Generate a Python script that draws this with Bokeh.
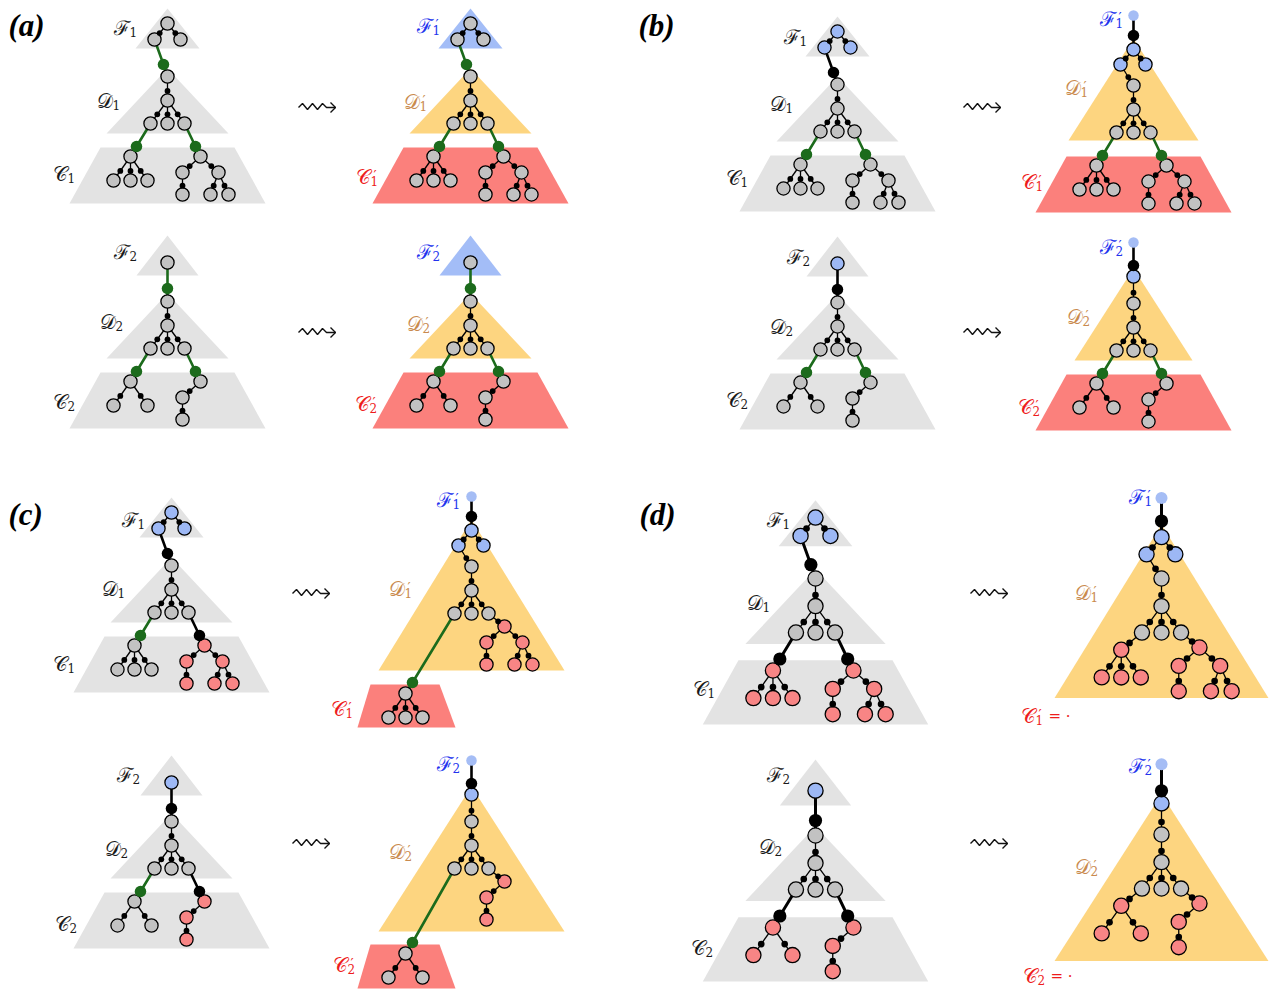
from bokeh.plotting import figure
from bokeh.models import Range1d
from bokeh.embed import file_html
from bokeh.resources import INLINE
from bokeh.core.properties import value

W, H = 1274, 992

# ---------------- colours ----------------
GRAY_TRI = "#e3e3e3"
BLUE_TRI = "#a3bdf7"
YEL_TRI = "#fdd580"
RED_TRI = "#fb807c"
GRAY_NODE = "#c2c2c2"
BLUE_NODE = "#9db8f5"
RED_NODE = "#f88585"
TOP_DOT = "#a5bdf5"
GREEN = "#1c6b1c"
BLACK = "#000000"
LBL_BLUE = "#2233ee"
LBL_TAN = "#c98a4e"
LBL_RED = "#ee1c1c"

# ---------------- panel letters ----------------
PANEL_LETTERS = ["(a)", "(b)", "(c)", "(d)"]
PANEL_LETTER_X = [8, 638, 8, 639]
PANEL_LETTER_Y = [25, 25, 514, 514]

# ---------------- diagram anchors (root of the D tree) ----------------
ROW_KEYS = ["a1", "a2", "b1", "b2", "c1", "c2", "d1", "d2"]
LEFT_X = [167, 167, 837, 837, 171, 171, 815, 815]
LEFT_Y = [76, 301, 84, 302, 565, 821, 578, 835]
RIGHT_X = [470, 470, 1133, 1133, 471, 471, 1161, 1161]
RIGHT_Y = [76, 301, 85, 303, 566, 821, 578, 834]
SCALE = [1, 1, 1, 1, 1, 1, 1.15, 1.15]
ARROW_X = [298, 298, 963, 963, 292, 292, 970, 970]
ARROW_Y = [107, 332, 107, 332, 593, 843, 593, 843]

# ---------------- tree templates (relative) ----------------
F3_NODES = [(0, -53), (-13, -37), (13, -37)]
F1_NODE = (0, -39)
F_LINK = {1: (-4, -12), 2: (0, -13)}
D_NODES = [(0, 0), (0, 24), (-17, 47), (0, 47), (17, 47)]
D_EDGES = [(0, 1), (1, 2), (1, 3), (1, 4)]
C_LINK_L = (-31, 70)
C_LINK_R = (28, 70)
C_ROOT_L = (-37, 80)
C_ROOT_R = (33, 80)
C3_KIDS = [(-17, 24), (0, 24), (17, 24)]
C2_KIDS = [(-17, 24), (17, 24)]
C5_KIDS = [(-18, 16), (18, 16)]
C5_LEAVES = [(0, (0, 22)), (1, (-8, 22)), (1, (10, 22))]
CH_KID = (-18, 16)
CH_LEAF = (0, 22)

F_TRI = {1: [(0, -68), (-32, -28), (32, -28)], 2: [(0, -66), (-31, -26), (31, -26)]}
D_TRI = [(0, -8), (-61, 57), (61, 57)]
C_TRAP = [(-67, 71), (67, 71), (98, 127), (-98, 127)]

TOP = {1: dict(top=(0, -70), bd=(0, -50), blue=(0, -36), kids=[(-13, -21), (12, -21)]),
       2: dict(top=(0, -61), bd=(0, -38), blue=(0, -27))}
DP_TRI_B = {1: [(0, -47), (-65, 55), (65, 55)], 2: [(0, -35), (-59, 57), (59, 57)]}
DP_TRI_CD = {1: [(0, -47), (-93, 104), (93, 104)], 2: [(0, -35), (-93, 110), (93, 110)]}
SMALL_C = {1: dict(trap=[(-101, 118), (-32, 118), (-16, 161), (-114, 161)], dot=(-59, 116), root=(-66, 127)),
           2: dict(trap=[(-101, 123), (-32, 123), (-16, 167), (-114, 167)], dot=(-59, 121), root=(-66, 132))}
RED_ROOT_L = (-35, 62)
RED_ROOT_R = (33, 60)

# ---------------- labels ----------------
LBL_CH = ["F", "D", "C"] * 16
LBL_SUB = (["1"] * 3 + ["2"] * 3 + ["1"] * 3 + ["2"] * 3) * 4
LBL_PRIME = ([False] * 6 + [True] * 6) * 4
LBL_X = [137, 120, 75, 137, 123, 75, 440, 427, 378, 440, 430, 377,
         807, 793, 748, 810, 793, 748, 1123, 1088, 1043, 1123, 1090, 1040,
         145, 125, 75, 140, 128, 77, 460, 412, 353, 460, 412, 355,
         790, 770, 715, 790, 782, 713, 1152, 1098, 1043, 1152, 1098, 1045]
LBL_Y = [26, 99, 172, 250, 320, 400, 24, 100, 175, 250, 322, 402,
         35, 102, 176, 255, 325, 398, 17, 86, 180, 245, 315, 405,
         518, 587, 662, 773, 847, 922, 498, 587, 707, 762, 850, 963,
         518, 601, 687, 773, 845, 946, 495, 591, 714, 764, 865, 974]
EMPTY_SUFFIX_IDX = [44, 47]
SCRIPT = {"F": "\u2131", "D": "\U0001D49F", "C": "\U0001D49E"}

# ---------------- collectors ----------------
P_X, P_Y, P_C = [], [], []
E_X, E_Y = [], []
K_X, K_Y, K_C, K_W = [], [], [], []
N_X, N_Y, N_C, N_S = [], [], [], []
S_X, S_Y, S_S = [], [], []
L_X, L_Y, L_C, L_S = [], [], [], []
T_X, T_Y, T_S = [], [], []


def T(o, s, p):
    return (o[0] + s * p[0], o[1] + s * p[1])


def add_poly(o, s, pts, color):
    P_X.append([o[0] + s * x for x, y in pts])
    P_Y.append([o[1] + s * y for x, y in pts])
    P_C.append(color)


def add_node(p, fill, s):
    N_X.append(p[0]); N_Y.append(p[1]); N_C.append(fill); N_S.append(13.2 * s)


def add_thin(a, b, s):
    E_X.append([a[0], b[0]]); E_Y.append([a[1], b[1]])
    f = 0.6
    S_X.append(a[0] + (b[0] - a[0]) * f); S_Y.append(a[1] + (b[1] - a[1]) * f); S_S.append(5.8 * s)


def add_link(a, d, b, color, s):
    K_X.append([a[0], d[0], b[0]]); K_Y.append([a[1], d[1], b[1]]); K_C.append(color); K_W.append(2.6 * s)
    L_X.append(d[0]); L_Y.append(d[1]); L_C.append(color); L_S.append(11.5 * s)


def subtree(root, kind, fill, s):
    add_node(root, fill, s)
    if kind in ("C3", "C2"):
        for k in (C3_KIDS if kind == "C3" else C2_KIDS):
            p = (root[0] + s * k[0], root[1] + s * k[1])
            add_thin(root, p, s); add_node(p, fill, s)
    elif kind == "C5":
        kids = []
        for k in C5_KIDS:
            p = (root[0] + s * k[0], root[1] + s * k[1])
            add_thin(root, p, s); add_node(p, fill, s); kids.append(p)
        for i, (dx, dy) in C5_LEAVES:
            p = (kids[i][0] + s * dx, kids[i][1] + s * dy)
            add_thin(kids[i], p, s); add_node(p, fill, s)
    else:
        p = (root[0] + s * CH_KID[0], root[1] + s * CH_KID[1])
        add_thin(root, p, s); add_node(p, fill, s)
        q = (p[0] + s * CH_LEAF[0], p[1] + s * CH_LEAF[1])
        add_thin(p, q, s); add_node(q, fill, s)


def d_tree(o, s):
    pts = [T(o, s, p) for p in D_NODES]
    for i, j in D_EDGES:
        add_thin(pts[i], pts[j], s)
    for p in pts:
        add_node(p, GRAY_NODE, s)
    return pts


def left_diagram(o, s, row, tri_cols, f_fill, f_link, links, c_fills):
    add_poly(o, s, F_TRI[row], tri_cols[0])
    add_poly(o, s, D_TRI, tri_cols[1])
    add_poly(o, s, C_TRAP, tri_cols[2])
    if row == 1:
        f = [T(o, s, p) for p in F3_NODES]
        add_thin(f[0], f[1], s); add_thin(f[0], f[2], s)
        for p in f:
            add_node(p, f_fill, s)
        src = f[1]
    else:
        src = T(o, s, F1_NODE)
        add_node(src, f_fill, s)
    d = d_tree(o, s)
    add_link(src, T(o, s, F_LINK[row]), d[0], f_link, s)
    rl, rr = T(o, s, C_ROOT_L), T(o, s, C_ROOT_R)
    add_link(d[2], T(o, s, C_LINK_L), rl, links[0], s)
    add_link(d[4], T(o, s, C_LINK_R), rr, links[1], s)
    subtree(rl, "C3" if row == 1 else "C2", c_fills[0], s)
    subtree(rr, "C5" if row == 1 else "CH", c_fills[1], s)


def merged_diagram(o, s, row, kind):
    tri = DP_TRI_B[row] if kind == "b" else DP_TRI_CD[row]
    add_poly(o, s, tri, YEL_TRI)
    if kind == "b":
        add_poly(o, s, C_TRAP, RED_TRI)
    if kind == "c":
        add_poly(o, s, SMALL_C[row]["trap"], RED_TRI)
    t = TOP[row]
    top, bd, bl = T(o, s, t["top"]), T(o, s, t["bd"]), T(o, s, t["blue"])
    K_X.append([top[0], bl[0]]); K_Y.append([top[1], bl[1]]); K_C.append(BLACK); K_W.append(2.6 * s)
    L_X.append(bd[0]); L_Y.append(bd[1]); L_C.append(BLACK); L_S.append(11.5 * s)
    T_X.append(top[0]); T_Y.append(top[1]); T_S.append(10.5 * s)
    add_node(bl, BLUE_NODE, s)
    d = d_tree(o, s)
    if row == 1:
        kids = [T(o, s, k) for k in t["kids"]]
        for k in kids:
            add_thin(bl, k, s); add_node(k, BLUE_NODE, s)
        add_thin(kids[0], d[0], s)
    else:
        add_thin(bl, d[0], s)
    small = "C3" if row == 1 else "C2"
    big = "C5" if row == 1 else "CH"
    if kind == "b":
        rl, rr = T(o, s, C_ROOT_L), T(o, s, C_ROOT_R)
        add_link(d[2], T(o, s, C_LINK_L), rl, GREEN, s)
        add_link(d[4], T(o, s, C_LINK_R), rr, GREEN, s)
        subtree(rl, small, GRAY_NODE, s)
        subtree(rr, big, GRAY_NODE, s)
    elif kind == "c":
        sc = SMALL_C[row]
        r = T(o, s, sc["root"])
        add_link(d[2], T(o, s, sc["dot"]), r, GREEN, s)
        subtree(r, small, GRAY_NODE, s)
        rr = T(o, s, RED_ROOT_R)
        add_thin(d[4], rr, s)
        subtree(rr, big, RED_NODE, s)
    else:
        rl, rr = T(o, s, RED_ROOT_L), T(o, s, RED_ROOT_R)
        add_thin(d[2], rl, s)
        add_thin(d[4], rr, s)
        subtree(rl, small, RED_NODE, s)
        subtree(rr, big, RED_NODE, s)


GRAYS = (GRAY_TRI, GRAY_TRI, GRAY_TRI)
COLS = (BLUE_TRI, YEL_TRI, RED_TRI)
for i, key in enumerate(ROW_KEYS):
    panel, row = key[0], int(key[1])
    lo = (LEFT_X[i], LEFT_Y[i])
    ro = (RIGHT_X[i], RIGHT_Y[i])
    s = SCALE[i]
    if panel == "a":
        left_diagram(lo, s, row, GRAYS, GRAY_NODE, GREEN, (GREEN, GREEN), (GRAY_NODE, GRAY_NODE))
        left_diagram(ro, s, row, COLS, GRAY_NODE, GREEN, (GREEN, GREEN), (GRAY_NODE, GRAY_NODE))
    elif panel == "b":
        left_diagram(lo, s, row, GRAYS, BLUE_NODE, BLACK, (GREEN, GREEN), (GRAY_NODE, GRAY_NODE))
        merged_diagram(ro, s, row, "b")
    elif panel == "c":
        left_diagram(lo, s, row, GRAYS, BLUE_NODE, BLACK, (GREEN, BLACK), (GRAY_NODE, RED_NODE))
        merged_diagram(ro, s, row, "c")
    else:
        left_diagram(lo, s, row, GRAYS, BLUE_NODE, BLACK, (BLACK, BLACK), (RED_NODE, RED_NODE))
        merged_diagram(ro, s, row, "d")

# squiggly arrows
ARROW_WAVE = [(0, 0), (4, -4), (9, 2), (14, -4), (19, 2), (24, -4), (28, 0), (37, 0)]
ARROW_HEAD = [(32, -5), (37, 0), (32, 5)]
A_X, A_Y = [], []
for ax, ay in zip(ARROW_X, ARROW_Y):
    A_X.append([ax + x for x, y in ARROW_WAVE]); A_Y.append([ay + y for x, y in ARROW_WAVE])
    A_X.append([ax + x for x, y in ARROW_HEAD]); A_Y.append([ay + y for x, y in ARROW_HEAD])

# ---------------- figure ----------------
p = figure(width=W, height=H, x_range=Range1d(0, W), y_range=Range1d(H, 0),
           toolbar_location=None, output_backend="svg", min_border=0,
           x_axis_type=None, y_axis_type=None)
p.grid.visible = False
p.outline_line_color = None
p.background_fill_color = "white"
p.border_fill_color = "white"

p.patches(xs=P_X, ys=P_Y, fill_color=P_C, line_color=None)
p.multi_line(xs=E_X, ys=E_Y, line_color=BLACK, line_width=1.3)
p.multi_line(xs=K_X, ys=K_Y, line_color=K_C, line_width=K_W)
p.scatter(x=N_X, y=N_Y, size=N_S, fill_color=N_C, line_color=BLACK, line_width=1.3)
p.scatter(x=S_X, y=S_Y, size=S_S, fill_color=BLACK, line_color=None)
p.scatter(x=L_X, y=L_Y, size=L_S, fill_color=L_C, line_color=None)
p.scatter(x=T_X, y=T_Y, size=T_S, fill_color=TOP_DOT, line_color=None)
p.multi_line(xs=A_X, ys=A_Y, line_color="#111111", line_width=1.4)

# panel letters
p.text(x=PANEL_LETTER_X, y=PANEL_LETTER_Y, text=PANEL_LETTERS,
       text_font=value("Liberation Serif"), text_font_style="bold italic",
       text_font_size=value("31px"), text_baseline="middle", text_align="left", text_color=BLACK)

# math labels
lc, lx, ly, lcol, sx, sy, st, px, py = [], [], [], [], [], [], [], [], []
for i in range(len(LBL_CH)):
    ch, prime = LBL_CH[i], LBL_PRIME[i]
    col = {"F": LBL_BLUE, "D": LBL_TAN, "C": LBL_RED}[ch] if prime else "#1a1a1a"
    xr, y = LBL_X[i], LBL_Y[i]
    lc.append(SCRIPT[ch]); lx.append(xr - 8); ly.append(y + 1); lcol.append(col)
    sx.append(xr - 8); sy.append(y + 5); st.append(LBL_SUB[i])
    if prime:
        px.append(xr - 5); py.append(y - 1)
p_cols = [c for c, pr in zip(lcol, LBL_PRIME) if pr]
p.text(x=lx, y=ly, text=lc, text_color=lcol, text_font=value("DejaVu Serif"),
       text_font_size=value("20px"), text_align="right", text_baseline="alphabetic")
p.text(x=sx, y=sy, text=st, text_color=lcol, text_font=value("DejaVu Serif"),
       text_font_size=value("12px"), text_align="left", text_baseline="alphabetic")
p.text(x=px, y=py, text=["\u2032"] * len(px), text_color=p_cols, text_font=value("DejaVu Sans"),
       text_font_size=value("14px"), text_align="left", text_baseline="alphabetic")
ex = [LBL_X[i] + 5 for i in EMPTY_SUFFIX_IDX]
ey = [LBL_Y[i] + 1 for i in EMPTY_SUFFIX_IDX]
p.text(x=ex, y=ey, text=["= \u00b7"] * len(ex), text_color=LBL_RED, text_font=value("DejaVu Serif"),
       text_font_size=value("15px"), text_align="left", text_baseline="alphabetic")

open("out.html", "w").write(file_html(p, INLINE))
